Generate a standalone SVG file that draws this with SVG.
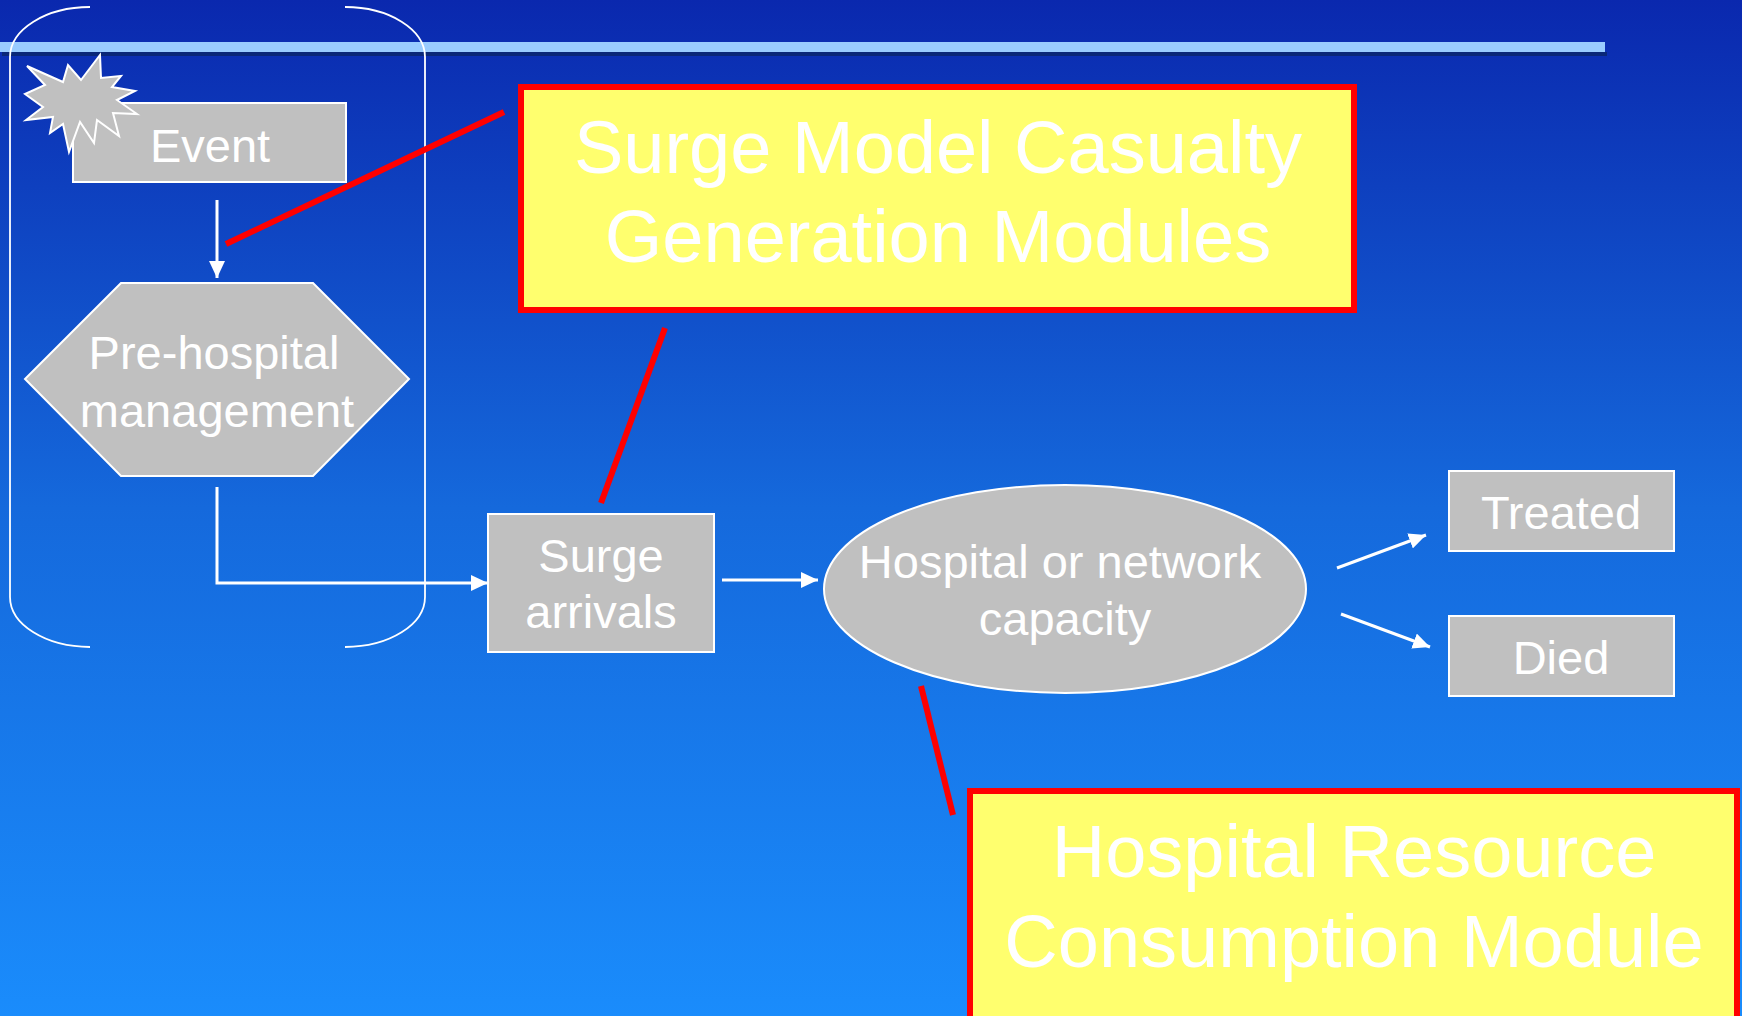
<svg xmlns="http://www.w3.org/2000/svg" width="1742" height="1016" viewBox="0 0 1742 1016">
<defs>
<linearGradient id="bg" x1="0" y1="0" x2="0" y2="1">
<stop offset="0" stop-color="#0a28ae"/>
<stop offset="0.5" stop-color="#1569dc"/>
<stop offset="1" stop-color="#1a8cfc"/>
</linearGradient>
<marker id="ah" markerUnits="userSpaceOnUse" markerWidth="18" markerHeight="16" refX="17" refY="8" orient="auto">
<path d="M0,0 L17,8 L0,16 Z" fill="#ffffff"/>
</marker>
<style>
.node{fill:#c0c0c0;stroke:#ffffff;stroke-width:2}
.lbl{font-family:"Liberation Sans",Arial,sans-serif;font-size:47px;fill:#ffffff;text-anchor:middle}
.big{font-family:"Liberation Sans",Arial,sans-serif;font-size:74px;fill:#ffffff;text-anchor:middle}
.note{fill:#ffff6e;stroke:#ff0000;stroke-width:6}
.conn{stroke:#ffffff;stroke-width:3;fill:none}
.red{stroke:#ff0000;stroke-width:6;fill:none}
.brk{stroke:#ffffff;stroke-width:1.8;fill:none}
</style>
</defs>
<rect x="0" y="0" width="1742" height="1016" fill="url(#bg)"/>
<rect x="2" y="52" width="1605" height="4" fill="#0a2878"/>
<rect x="0" y="42" width="1605" height="10" fill="#99ccff"/>

<g id="bracket">
<path class="brk" d="M90,7 A80,50 0 0 0 10,57 L10,597 A80,50 0 0 0 90,647"/>
<path class="brk" d="M345,7 A80,50 0 0 1 425,57 L425,597 A80,50 0 0 1 345,647"/>
</g>

<g id="connectors">
<line class="conn" x1="217" y1="200" x2="217" y2="278" marker-end="url(#ah)"/>
<polyline class="conn" points="217,487 217,583 488,583" marker-end="url(#ah)"/>
<line class="conn" x1="722" y1="580" x2="818" y2="580" marker-end="url(#ah)"/>
<line class="conn" x1="1337" y1="568" x2="1426" y2="535" marker-end="url(#ah)"/>
<line class="conn" x1="1341" y1="614" x2="1430" y2="647" marker-end="url(#ah)"/>
<line class="red" x1="226" y1="244" x2="504" y2="112"/>
<line class="red" x1="665" y1="328" x2="601" y2="503"/>
<line class="red" x1="921" y1="686" x2="953" y2="815"/>
</g>

<g id="event">
<rect class="node" x="73" y="103" width="273" height="79"/>
<polygon class="node" points="27,66 63,82 68,65 81,80 100,55 101,78 121,76 112,87 135,91 117,100 137,114 113,113 119,136 97,120 94,143 80,122 69,152 63,124 50,133 53,117 26,120 43,107 25,94 45,85"/>
<text class="lbl" x="210" y="162">Event</text>
</g>

<g id="prehospital">
<polygon class="node" points="121,283 313,283 409,379 313,476 121,476 25,379"/>
<text class="lbl" x="214" y="369">Pre-hospital</text>
<text class="lbl" x="217" y="427">management</text>
</g>

<g id="surge">
<rect class="node" x="488" y="514" width="226" height="138"/>
<text class="lbl" x="601" y="572">Surge</text>
<text class="lbl" x="601" y="628">arrivals</text>
</g>

<g id="hospital">
<ellipse class="node" cx="1065" cy="589" rx="241" ry="104"/>
<text class="lbl" x="1060" y="578">Hospital or network</text>
<text class="lbl" x="1065" y="635">capacity</text>
</g>

<g id="treated">
<rect class="node" x="1449" y="471" width="225" height="80"/>
<text class="lbl" x="1561" y="529">Treated</text>
</g>

<g id="died">
<rect class="node" x="1449" y="616" width="225" height="80"/>
<text class="lbl" x="1561" y="674">Died</text>
</g>

<g id="surgeModel">
<rect class="note" x="521" y="87" width="833" height="223"/>
<text class="big" x="938" y="173">Surge Model Casualty</text>
<text class="big" x="938" y="262">Generation Modules</text>
</g>

<g id="resourceModule">
<rect class="note" x="970" y="791" width="767" height="232"/>
<text class="big" x="1354" y="877">Hospital Resource</text>
<text class="big" x="1354" y="967">Consumption Module</text>
</g>
</svg>
